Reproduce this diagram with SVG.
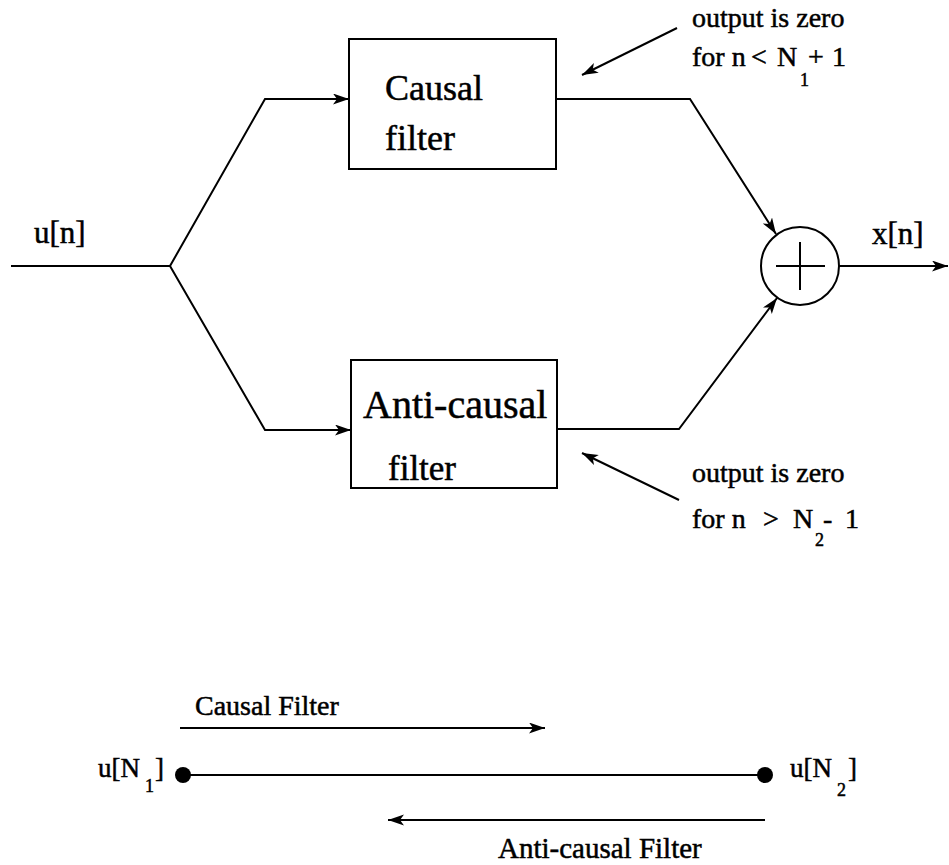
<svg xmlns="http://www.w3.org/2000/svg" width="949" height="865" viewBox="0 0 949 865">
  <style>
    .ln { fill: none; stroke: #000; stroke-width: 2; }
    .box { fill: #fff; stroke: #000; stroke-width: 2; }
    .t { font-family: "Liberation Serif", "Times New Roman", serif; fill: #000; stroke: #000; stroke-width: 0.5; }
  </style>
  <defs>
    <marker id="arr" markerWidth="18" markerHeight="12" refX="16" refY="5.5" orient="auto" markerUnits="userSpaceOnUse">
      <path d="M0,0 L16,5.5 L0,11 L4,5.5 Z" fill="#000"/>
    </marker>
  </defs>
  <rect width="949" height="865" fill="#fff"/>

  <!-- signal flow -->
  <g id="connectors">
    <path class="ln" d="M11,266 L170,266"/>
    <path class="ln" d="M170,266 L265,99 L349,99" marker-end="url(#arr)"/>
    <path class="ln" d="M170,266 L265,430 L351,430" marker-end="url(#arr)"/>
    <path class="ln" d="M556,99 L690,99 L776,234" marker-end="url(#arr)"/>
    <path class="ln" d="M557,429 L679,429 L777,298" marker-end="url(#arr)"/>
    <path class="ln" d="M839,266 L948,266" marker-end="url(#arr)"/>
    <path class="ln" d="M677,28 L582,75" marker-end="url(#arr)"/>
    <path class="ln" d="M679,500 L582,453" marker-end="url(#arr)"/>
  </g>

  <g id="causal-filter">
    <rect class="box" x="349" y="39" width="207" height="130"/>
    <text class="t" x="385" y="100" font-size="36">Causal</text>
    <text class="t" x="385" y="150" font-size="36">filter</text>
  </g>

  <g id="anticausal-filter">
    <rect class="box" x="351" y="360" width="206" height="128"/>
    <text class="t" x="363" y="418" font-size="40">Anti-causal</text>
    <text class="t" x="388" y="480" font-size="35">filter</text>
  </g>

  <g id="summer">
    <circle class="ln" cx="800" cy="266" r="39"/>
    <path class="ln" d="M776,266 L825,266 M800,242 L800,290"/>
  </g>

  <g id="labels">
    <text class="t" x="34" y="243" font-size="31">u[n]</text>
    <text class="t" x="872" y="244" font-size="31">x[n]</text>

    <text class="t" x="692" y="27" font-size="28">output is zero</text>
    <text class="t" y="66" font-size="28"><tspan x="692">for n</tspan><tspan x="751">&lt;</tspan><tspan x="777">N</tspan><tspan x="808">+</tspan><tspan x="832">1</tspan></text>
    <text class="t" x="800" y="86" font-size="18">1</text>

    <text class="t" x="692" y="482" font-size="28">output is zero</text>
    <text class="t" y="528" font-size="28"><tspan x="692">for n</tspan><tspan x="763">&gt;</tspan><tspan x="793">N</tspan><tspan x="823">-</tspan><tspan x="845">1</tspan></text>
    <text class="t" x="815" y="546" font-size="18">2</text>
  </g>

  <!-- direction of processing along the data record -->
  <g id="record">
    <path class="ln" d="M180,728 L545,728" marker-end="url(#arr)"/>
    <text class="t" x="195" y="715" font-size="28">Causal Filter</text>
    <path class="ln" d="M183,775 L765,775"/>
    <circle cx="183" cy="775" r="8" fill="#000"/>
    <circle cx="765" cy="775" r="8" fill="#000"/>
    <path class="ln" d="M765,820 L388,820" marker-end="url(#arr)"/>
    <text class="t" x="498" y="858" font-size="29">Anti-causal Filter</text>

    <text class="t" x="98" y="777" font-size="27">u[N</text>
    <text class="t" x="155" y="777" font-size="27">]</text>
    <text class="t" x="145" y="792" font-size="18">1</text>

    <text class="t" x="790" y="777" font-size="27">u[N</text>
    <text class="t" x="848" y="777" font-size="27">]</text>
    <text class="t" x="837" y="796" font-size="18">2</text>
  </g>
</svg>
